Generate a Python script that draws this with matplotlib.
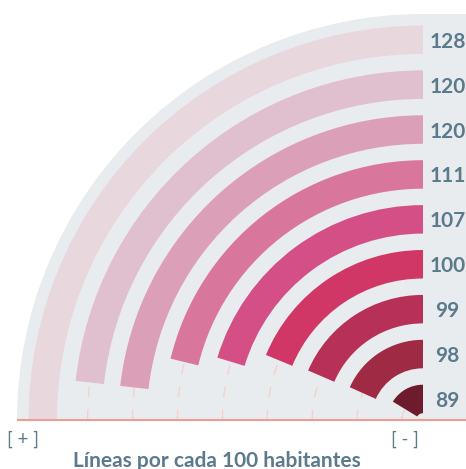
import matplotlib.pyplot as plt
from matplotlib.patches import Wedge, Rectangle
import numpy as np

# lines per 100 inhabitants, largest first
values = [128, 120, 120, 111, 107, 100, 99, 98, 89]
labels = ['128', '120', '120', '111', '107', '100', '99', '98', '89']
colors = ['#e8d8dd', '#e0bfcf', '#dc9fb8', '#d9769b', '#d44f86',
          '#d13766', '#b73058', '#9e2b43', '#6e1c2d']

TEXT = '#5b7a8b'
GREY = '#e9ecef'
SALMON = '#ee9d93'
DASH = '#f3d3c8'

# value -> sweep angle (degrees, counter-clockwise from 12 o'clock)
V_MIN, V_MAX = 16, max(values)

def sweep(v):
    return 90 * (v - V_MIN) / (V_MAX - V_MIN)

# ring layout (pixels)
R_TOP, STEP, WIDTH = 394.5, 44.9, 28.5
BG_R = 406

plt.rcParams['font.family'] = ['Lato', 'DejaVu Sans']
plt.rcParams['lines.scale_dashes'] = False

fig = plt.figure(figsize=(4.66, 4.69), dpi=100)
ax = fig.add_axes([0, 0, 1, 1])
ax.set_xlim(-423, 43)
ax.set_ylim(-49, 420)
ax.axis('off')

# grey backdrop: quarter disk plus the strip on the right
ax.add_patch(Wedge((0, 0), BG_R, 90, 180, facecolor=GREY, edgecolor='none'))
ax.add_patch(Rectangle((0, 0), 43, BG_R, facecolor=GREY, edgecolor='none'))

for i, (v, lab, c) in enumerate(zip(values, labels, colors)):
    r_out = R_TOP - STEP * i
    r_mid = r_out - WIDTH / 2
    # dashed track under each bar
    if i > 0:
        t = np.linspace(np.pi, np.pi / 2, 200)
        ax.plot(r_mid * np.cos(t), r_mid * np.sin(t), color=DASH, lw=1.0,
                linestyle=(0, (7.6, 8.8)), zorder=1)
    ax.add_patch(Wedge((0, 0), r_out, 90, 90 + sweep(v), width=WIDTH,
                       facecolor=c, edgecolor='none', zorder=2))
    ax.text(24.5, r_mid - 2, lab, ha='center', va='center', fontsize=15,
            fontweight='bold', color=TEXT)

ax.plot([-BG_R, 43], [0, 0], color=SALMON, lw=1.5, zorder=3,
        solid_capstyle='butt')

ax.text(-400, -19, '[ + ]', ha='center', va='center', fontsize=13.5, color=TEXT)
ax.text(-18, -19, '[ - ]', ha='center', va='center', fontsize=13.5, color=TEXT)
ax.text(-206, -46.5, 'Líneas por cada 100 habitantes', ha='center',
        va='baseline', fontsize=15, fontweight='bold', color=TEXT)

fig.savefig('out.png', dpi=100)
